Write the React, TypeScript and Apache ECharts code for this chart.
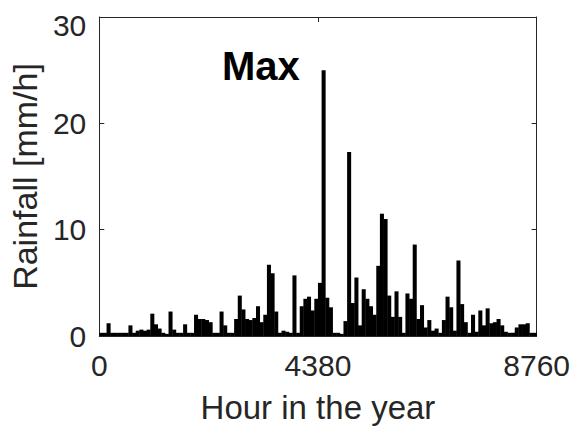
import React, { useEffect, useRef } from "react";
import * as echarts from "echarts";

// Hourly rainfall aggregated into bins of BIN_HOURS hours (120 bins over 8760 h)
const BIN_HOURS = 73;
const rainfall = [
  0.3, 0.3, 1.2, 0.3, 0.3, 0.3, 0.3, 0.3, 1.0, 0.3,
  0.5, 0.6, 0.5, 0.6, 2.1, 1.1, 0.7, 0.3, 0.2, 2.3,
  0.6, 0.3, 0.3, 1.1, 0.3, 0.3, 2.0, 1.6, 1.6, 1.5,
  1.3, 0.3, 0.3, 2.3, 1.0, 0.3, 0.3, 1.6, 3.8, 2.5,
  1.6, 1.5, 1.7, 2.8, 1.3, 2.0, 6.7, 5.9, 2.3, 0.3,
  0.5, 0.4, 0.3, 5.7, 0.3, 2.8, 3.5, 3.7, 2.4, 3.5,
  5.0, 25.0, 3.6, 2.7, 0.3, 0.3, 0.2, 1.4, 17.3, 3.1,
  5.5, 1.0, 4.4, 3.5, 2.8, 2.0, 6.6, 11.5, 11.0, 3.8,
  1.8, 4.2, 1.8, 0.3, 4.0, 3.5, 8.6, 1.6, 2.9, 0.8,
  1.5, 0.5, 0.7, 0.3, 1.5, 3.7, 2.7, 0.5, 7.1, 3.0,
  1.3, 0.3, 2.0, 0.4, 2.4, 1.0, 2.6, 1.2, 1.3, 1.6,
  1.0, 0.4, 0.3, 0.3, 0.8, 1.1, 1.1, 1.2, 0.3, 0.3,
];

const xTicks = [0, 4380, 8760];
const yTicks = [0, 10, 20, 30];
const maxLabel = "Max";

const FONT = "'Liberation Sans', Arial, Helvetica, sans-serif";
const AXIS_COLOR = "#262626";

export default function App() {
  const ref = useRef<HTMLDivElement>(null);

  useEffect(() => {
    if (!ref.current) return;
    const chart = echarts.init(ref.current, null, { renderer: "svg" });

    const data = rainfall.map((v, i) => [i * BIN_HOURS, (i + 1) * BIN_HOURS, v]);
    const plain = (v: number) => String(v);

    const boxAxisX = {
      min: xTicks[0],
      max: xTicks[xTicks.length - 1],
      interval: xTicks[1] - xTicks[0],
      axisLine: { show: true, onZero: false, lineStyle: { color: AXIS_COLOR, width: 1 } },
      axisTick: { show: true, inside: true, length: 5, lineStyle: { color: AXIS_COLOR } },
      splitLine: { show: false },
    };
    const boxAxisY = {
      min: yTicks[0],
      max: yTicks[yTicks.length - 1],
      interval: yTicks[1] - yTicks[0],
      axisLine: { show: true, onZero: false, lineStyle: { color: AXIS_COLOR, width: 1 } },
      axisTick: { show: true, inside: true, length: 5, lineStyle: { color: AXIS_COLOR } },
      splitLine: { show: false },
    };

    chart.setOption({
      animation: false,
      backgroundColor: "#ffffff",
      textStyle: { fontFamily: FONT },
      grid: { left: 95, right: 35, top: 17, bottom: 92, containLabel: false },
      xAxis: [
        {
          type: "value",
          position: "bottom",
          ...boxAxisX,
          name: "Hour in the year",
          nameLocation: "middle",
          nameGap: 55,
          nameTextStyle: { fontSize: 33, color: AXIS_COLOR, fontFamily: FONT },
          axisLabel: {
            show: true,
            fontSize: 30,
            color: AXIS_COLOR,
            margin: 14,
            fontFamily: FONT,
            formatter: plain,
          },
        },
        {
          type: "value",
          position: "top",
          ...boxAxisX,
          axisLabel: { show: false },
        },
      ],
      yAxis: [
        {
          type: "value",
          position: "left",
          ...boxAxisY,
          name: "Rainfall [mm/h]",
          nameLocation: "middle",
          nameGap: 52,
          nameTextStyle: { fontSize: 34, color: AXIS_COLOR, fontFamily: FONT },
          axisLabel: {
            show: true,
            fontSize: 30,
            lineHeight: 16,
            color: AXIS_COLOR,
            margin: 13,
            fontFamily: FONT,
            verticalAlignMaxLabel: "top",
            formatter: plain,
          },
        },
        {
          type: "value",
          position: "right",
          ...boxAxisY,
          axisLabel: { show: false },
        },
      ],
      graphic: [
        {
          type: "text",
          left: 222,
          top: 46,
          style: {
            text: maxLabel,
            fontSize: 40,
            fontWeight: "bold",
            fontFamily: FONT,
            fill: "#000000",
          },
        },
      ],
      series: [
        {
          type: "custom",
          xAxisIndex: 0,
          yAxisIndex: 0,
          encode: { x: [0, 1], y: 2 },
          data,
          renderItem: (params: any, api: any) => {
            const start = api.value(0);
            const end = api.value(1);
            const v = api.value(2);
            const p0 = api.coord([start, v]);
            const p1 = api.coord([end, 0]);
            return {
              type: "rect",
              shape: {
                x: p0[0],
                y: p0[1],
                width: p1[0] - p0[0] + 0.4,
                height: p1[1] - p0[1],
              },
              style: { fill: "#000000" },
            };
          },
        },
      ],
    });

    return () => chart.dispose();
  }, []);

  return (
    <div
      ref={ref}
      style={{ position: "fixed", left: 0, top: 0, width: 573, height: 429, background: "#fff" }}
    />
  );
}
